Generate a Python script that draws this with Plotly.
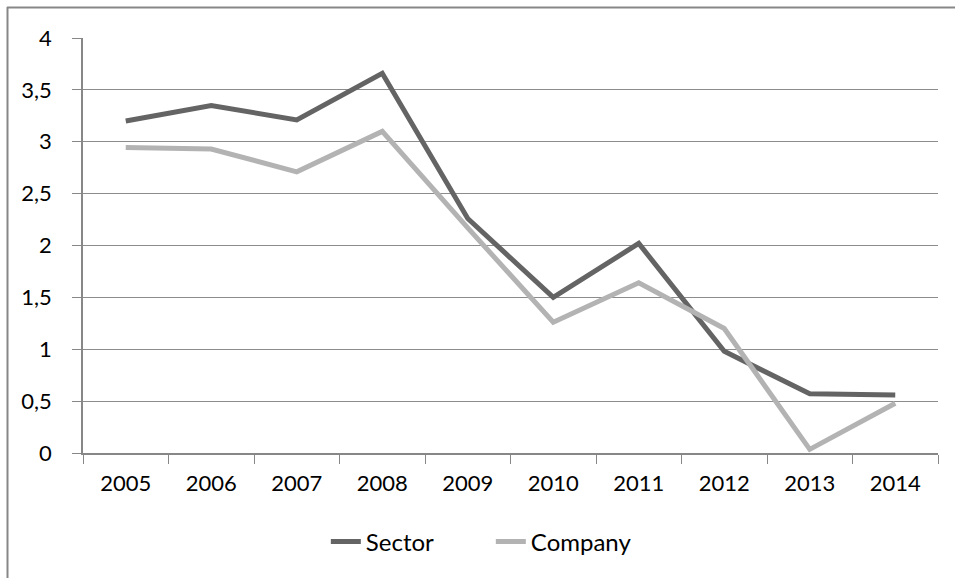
import plotly.graph_objects as go

years = ["2005", "2006", "2007", "2008", "2009", "2010", "2011", "2012", "2013", "2014"]
sector = [3.20, 3.35, 3.21, 3.66, 2.26, 1.50, 2.02, 0.98, 0.57, 0.56]
company = [2.945, 2.93, 2.71, 3.10, 2.17, 1.26, 1.64, 1.20, 0.035, 0.48]
y_ticks = [0, 0.5, 1, 1.5, 2, 2.5, 3, 3.5, 4]

W, H = 955, 578
L, R, T, B = 83, 17, 38, 125
pw, ph = W - L - R, H - T - B

def px_x(px):
    return (px - L) / pw

def px_y(py):
    return (H - B - py) / ph

fig = go.Figure()
fig.add_trace(go.Scatter(x=years, y=sector, mode="lines", name="Sector",
                         line=dict(color="#646464", width=5)))
fig.add_trace(go.Scatter(x=years, y=company, mode="lines", name="Company",
                         line=dict(color="#b3b3b3", width=5)))

border = "#878787"
fig.add_shape(type="line", xref="paper", yref="paper",
              x0=px_x(7), x1=px_x(W + 5), y0=px_y(7.5), y1=px_y(7.5),
              line=dict(color=border, width=2))
fig.add_shape(type="line", xref="paper", yref="paper",
              x0=px_x(7.5), x1=px_x(7.5), y0=px_y(7), y1=px_y(H + 5),
              line=dict(color=border, width=2))

fig.update_layout(
    width=W, height=H,
    margin=dict(l=L, r=R, t=T, b=B),
    paper_bgcolor="white", plot_bgcolor="white",
    separators=",.",
    font=dict(family="Lato", size=22, color="black"),
    showlegend=True,
    legend=dict(orientation="h", x=0.477, xanchor="center", y=px_y(542), yanchor="middle",
                font=dict(size=24), itemwidth=30, tracegroupgap=0,
                entrywidth=120, entrywidthmode="pixels"),
    xaxis=dict(type="category", tickson="boundaries", ticks="outside", ticklen=9,
               tickcolor="#878787", showline=True, linecolor="#878787", linewidth=1.5,
               showgrid=False, ticklabelstandoff=10, range=[-0.5, 9.5]),
    yaxis=dict(range=[0, 4], tickvals=y_ticks, ticks="outside", ticklen=9,
               tickcolor="#878787", showline=True, linecolor="#878787", linewidth=1.5,
               showgrid=True, gridcolor="#8c8c8c", gridwidth=1.2, zeroline=False,
               ticklabelstandoff=16),
)

fig.write_html("out.html")
